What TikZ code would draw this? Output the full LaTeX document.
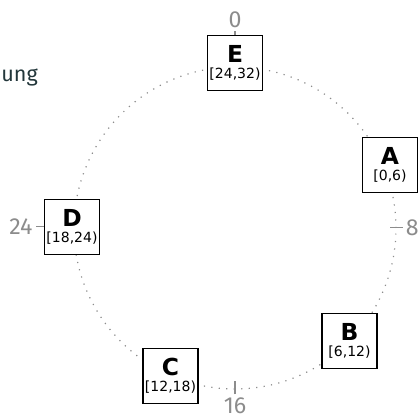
\documentclass[tikz,border=0pt]{standalone}
\usepackage{fontspec}
\setmainfont{Fira Sans}
\newfontfamily\peerfont{DejaVu Sans}
\usetikzlibrary{positioning}
\definecolor{marks}{RGB}{140,140,140}
\definecolor{heading}{RGB}{35,55,59}
\tikzset{peer/.style={draw=black,line width=0.6pt,fill=white,minimum size=27.5pt,inner sep=0pt,align=center,font=\peerfont\fontsize{11.7}{8.2}\selectfont},
  marklabel/.style={text=marks,inner sep=1.5pt,font=\fontsize{11.6}{13}\selectfont},
  tick/.style={draw=marks,line width=0.5pt}}
\newcommand{\peertext}[2]{\textbf{#1}\\{\fontsize{7}{8}\selectfont #2}}

\begin{document}
\begin{tikzpicture}[x=0.5pt,y=0.5pt]
  \useasboundingbox (0,0) rectangle (419,417);
  \node[text=heading,font=\fontsize{10.8}{12}\selectfont,anchor=base west,inner sep=0pt] (title) at (1,335) {ung};
  % ring
  \coordinate (c) at (235,189);
  \draw[marks,line width=0.6pt,dash pattern=on 0.6pt off 3.15pt] (c) circle[radius=80.5pt];
  \coordinate (t8) at (396,189);
  \coordinate (t16) at (235,29);
  % peers
  \node[peer] (E) at (235,354) {\peertext{E}{[24,32)}};
  \node[peer] (A) at (390,252) {\peertext{A}{[0,6)}};
  \node[peer] (B) at (349.5,76) {\peertext{B}{[6,12)}};
  \node[peer] (C) at (170.5,41) {\peertext{C}{[12,18)}};
  \node[peer] (D) at (72,190) {\peertext{D}{[18,24)}};
  % positions on the ring
  \node[marklabel,above=2pt of E] (l0) {0};
  \node[marklabel,right=3.25pt of t8] (l8) {8};
  \node[marklabel,below=3.25pt of t16] (l16) {16};
  \node[marklabel,left=4pt of D] (l24) {24};
  \draw[tick] (E) -- (l0);
  \draw[tick] (D) -- (l24);
  \draw[tick] (l8.west) -- ++(-13,0);
  \draw[tick] (l16.north) -- ++(0,13);
\end{tikzpicture}
\end{document}
